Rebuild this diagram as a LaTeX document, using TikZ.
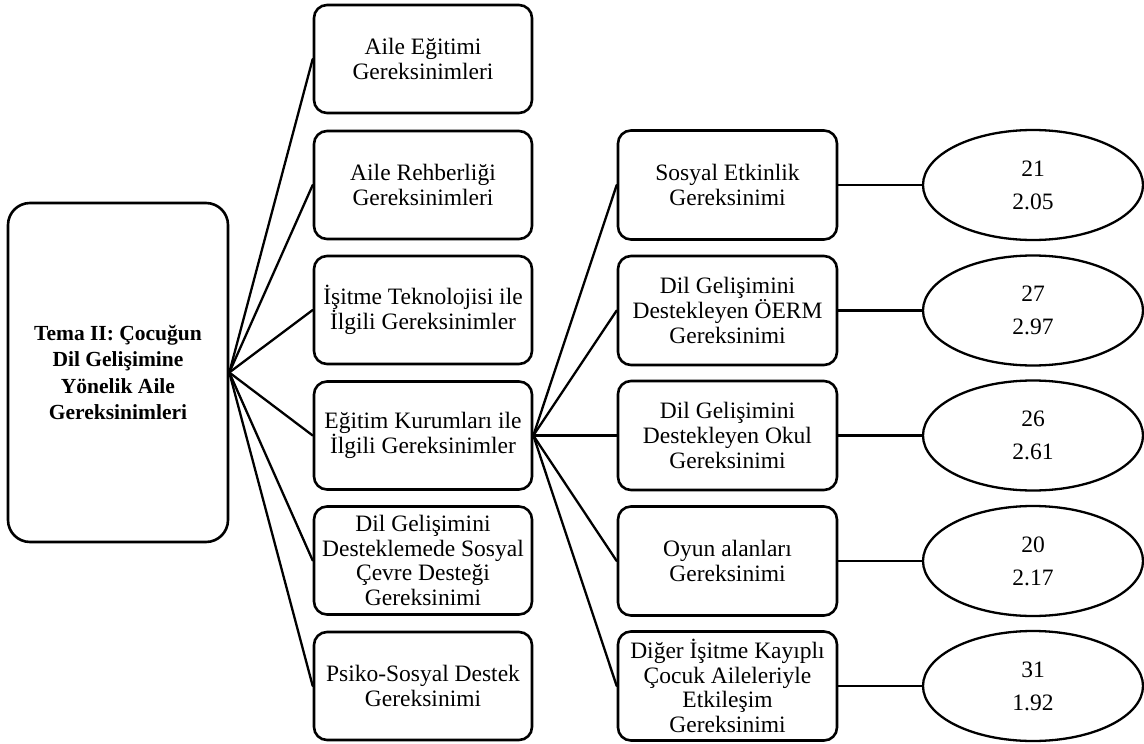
\documentclass[tikz,border=0pt]{standalone}
\usepackage{fontspec}
\setmainfont{Liberation Serif}
\usetikzlibrary{shapes.geometric}
\begin{document}
\begin{tikzpicture}[x=1pt,y=-1pt,
  base/.style={draw=black,line width=2.6pt,align=center,inner sep=1pt,
    font=\fontsize{23.5}{24.8}\selectfont},
  rootbox/.style={base,rounded corners=22pt,minimum width=220pt,minimum height=339pt,
    font=\bfseries\fontsize{21.5}{26.5}\selectfont},
  midbox/.style={base,rounded corners=13pt,minimum width=218pt,minimum height=108pt},
  subbox/.style={base,rounded corners=13pt,minimum width=219pt,minimum height=109pt},
  valnode/.style={base,ellipse,line width=2.3pt,minimum width=220pt,minimum height=110pt},
  link/.style={line width=2.3pt,line cap=round}]
\useasboundingbox (0,0) rectangle (1144,744);

% theme box
\node[rootbox] (root) at (118,372.5) {Tema II: Çocuğun\\Dil Gelişimine\\Yönelik Aile\\Gereksinimleri};

% first level
\node[midbox] (m1) at (423,59)    {Aile Eğitimi\\Gereksinimleri};
\node[midbox] (m2) at (423,185)   {Aile Rehberliği\\Gereksinimleri};
\node[midbox] (m3) at (423,310)   {İşitme Teknolojisi ile\\İlgili Gereksinimler};
\node[midbox] (m4) at (423,435.5) {Eğitim Kurumları ile\\İlgili Gereksinimler};
\node[midbox] (m5) at (423,560.5) {Dil Gelişimini\\Desteklemede Sosyal\\Çevre Desteği\\Gereksinimi};
\node[midbox] (m6) at (423,686)   {Psiko-Sosyal Destek\\Gereksinimi};

% second level
\node[subbox] (s1) at (727.5,185)   {Sosyal Etkinlik\\Gereksinimi};
\node[subbox] (s2) at (727.5,310.5) {Dil Gelişimini\\Destekleyen ÖERM\\Gereksinimi};
\node[subbox] (s3) at (727.5,435.5) {Dil Gelişimini\\Destekleyen Okul\\Gereksinimi};
\node[subbox] (s4) at (727.5,561)   {Oyun alanları\\Gereksinimi};
\node[subbox] (s5) at (727.5,686)   {Diğer İşitme Kayıplı\\Çocuk Aileleriyle\\Etkileşim\\Gereksinimi};

% values
\node[valnode] (v1) at (1033,185)   {21\\[8pt]2.05};
\node[valnode] (v2) at (1033,310.5) {27\\[8pt]2.97};
\node[valnode] (v3) at (1033,435.5) {26\\[8pt]2.61};
\node[valnode] (v4) at (1033,561)   {20\\[8pt]2.17};
\node[valnode] (v5) at (1033,686)   {31\\[8pt]1.92};

% connectors
\foreach \m in {m1,m2,m3,m4,m5,m6} \draw[link] (root.east) -- (\m.west);
\foreach \s in {s1,s2,s3,s4,s5} \draw[link] (m4.east) -- (\s.west);
\foreach \s/\v in {s1/v1,s2/v2,s3/v3,s4/v4,s5/v5} \draw[link] (\s.east) -- (\v.west);
\end{tikzpicture}
\end{document}
